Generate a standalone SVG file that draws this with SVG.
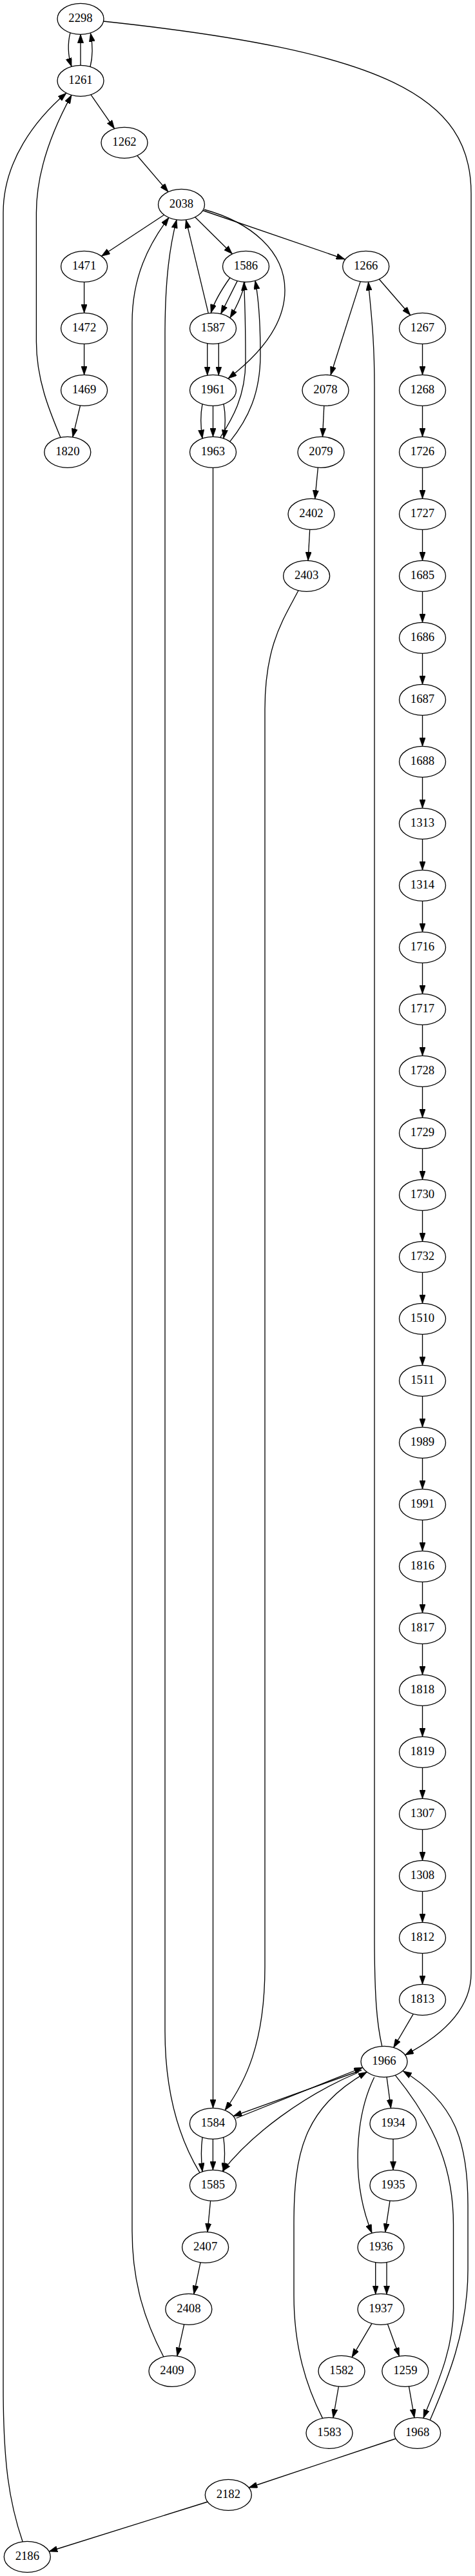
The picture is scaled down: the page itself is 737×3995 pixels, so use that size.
<svg xmlns="http://www.w3.org/2000/svg" width="737" height="3995" viewBox="0 0 737 3995">
<style>
.node ellipse{fill:none;stroke:#000;stroke-width:1.33}
.node text{font-family:"Liberation Serif","Times New Roman",serif;font-size:18.67px;text-anchor:middle;fill:#000}
#edges path{fill:none;stroke:#000;stroke-width:1.33;marker-end:url(#arr)}
</style>
<defs>
<marker id="arr" viewBox="0 0 10 7" refX="10" refY="3.5" markerWidth="13.33" markerHeight="9.33" markerUnits="userSpaceOnUse" orient="auto"><path d="M0,0 L10,3.5 L0,7 z" fill="#000" stroke="#000" stroke-width="0.5"/></marker>
</defs>
<rect x="0" y="0" width="737" height="3995" fill="#fff"/>
<g id="edges">
<path d="M109,50.8 C105,66 105,86 111,103.2"/>
<path d="M125,101.3 L125,53.3"/>
<path d="M140,103.5 C144,88 144,70 140.5,51.5"/>
<path d="M160.5,33 C600,80 731,150 731,300 L731,3060 C731,3120 680,3160 628.5,3187"/>
<path d="M141,146.8 L177.6,199.6"/>
<path d="M213,241.5 L261,297.6"/>
<path d="M255,333 L157.4,397.3"/>
<path d="M302.7,336.7 L360.4,393.8"/>
<path d="M315,326.5 L535,402"/>
<path d="M317,325 C390,345 442,390 442,450 C442,510 392,558 354,587"/>
<path d="M130.6,437.3 L130.6,485.3"/>
<path d="M130.6,533.3 L130.6,581.3"/>
<path d="M124.5,629 L112.8,677.9"/>
<path d="M94,678.5 C78,640 56.4,590 56.4,530 L56.4,330 C56.4,260 85,195 111,147.4"/>
<path d="M35.2,3942 C14,3880 5,3820 5,3700 L5,330 C5,250 55,185 103,144.3"/>
<path d="M357,430.5 C346,446 333,466 327.3,485.3"/>
<path d="M368.3,435.6 L342.7,486.7"/>
<path d="M380,437.3 C377,455 368,474 357,493"/>
<path d="M341.7,678.5 C360,650 381,615 381,560 C381,510 380,470 378.5,437.2"/>
<path d="M356.7,684.8 C385,650 404,610 404,550 C404,500 401,462 396,435.3"/>
<path d="M323.3,485.8 L288.5,340.9"/>
<path d="M321.7,532.6 L321.7,582"/>
<path d="M339.3,532.6 L339.3,582"/>
<path d="M314,626.6 C311,642 311,660 314,680"/>
<path d="M330.5,629.3 L330.5,677.3"/>
<path d="M347,626.6 C350,642 350,660 347,680"/>
<path d="M330.5,725.3 L330.5,3269.3"/>
<path d="M253.8,3655 C225,3600 205,3540 205,3460 L205,500 C205,430 230,380 262,337.4"/>
<path d="M310,3369.6 C280,3320 256,3250 256,3150 L256,520 C256,430 264,380 274,340.8"/>
<path d="M463,915.8 C440,960 411,1000 411,1100 L411,3050 C411,3170 380,3230 349,3272.7"/>
<path d="M592.7,3173.3 C585,3140 581,3100 581,3000 L581,600 C581,520 575,480 571.5,437.2"/>
<path d="M559.2,436.6 L513,581.7"/>
<path d="M588.3,433 L636.7,488.8"/>
<path d="M655.5,533.3 L655.5,581.3"/>
<path d="M655.5,629.3 L655.5,677.3"/>
<path d="M655.5,725.3 L655.5,773.3"/>
<path d="M655.5,821.3 L655.5,869.3"/>
<path d="M655.5,917.3 L655.5,965.3"/>
<path d="M655.5,1013.3 L655.5,1061.3"/>
<path d="M655.5,1109.3 L655.5,1157.3"/>
<path d="M655.5,1205.3 L655.5,1253.3"/>
<path d="M655.5,1301.3 L655.5,1349.3"/>
<path d="M655.5,1397.3 L655.5,1445.3"/>
<path d="M655.5,1493.3 L655.5,1541.3"/>
<path d="M655.5,1589.3 L655.5,1637.3"/>
<path d="M655.5,1685.3 L655.5,1733.3"/>
<path d="M655.5,1781.3 L655.5,1829.3"/>
<path d="M655.5,1877.3 L655.5,1925.3"/>
<path d="M655.5,1973.3 L655.5,2021.3"/>
<path d="M655.5,2069.3 L655.5,2117.3"/>
<path d="M655.5,2165.3 L655.5,2213.3"/>
<path d="M655.5,2261.3 L655.5,2309.3"/>
<path d="M655.5,2357.3 L655.5,2405.3"/>
<path d="M655.5,2453.3 L655.5,2501.3"/>
<path d="M655.5,2549.3 L655.5,2597.3"/>
<path d="M655.5,2645.3 L655.5,2693.3"/>
<path d="M655.5,2741.3 L655.5,2789.3"/>
<path d="M655.5,2837.3 L655.5,2885.3"/>
<path d="M655.5,2933.3 L655.5,2981.3"/>
<path d="M655.5,3029.3 L655.5,3077.3"/>
<path d="M641,3123.8 L610.7,3175.5"/>
<path d="M502.8,629.2 L500.5,677.4"/>
<path d="M493.4,725 L488.7,773.6"/>
<path d="M480.7,821.3 L478,869.4"/>
<path d="M366.5,3285 L562.5,3206.5"/>
<path d="M561,3210.5 L362,3281.8"/>
<path d="M557,3213.5 C470,3250 390,3310 345,3367.4"/>
<path d="M500.5,3750.4 C475,3700 456,3640 456,3560 L456,3450 C456,3340 470,3270 569.3,3213.4"/>
<path d="M580.7,3221.5 C552,3280 543,3380 577,3463.2"/>
<path d="M600,3221 L606.5,3269.4"/>
<path d="M610,3317.3 L610,3365.3"/>
<path d="M605,3413.1 L597.7,3461.7"/>
<path d="M582.7,3508.7 L582.7,3558"/>
<path d="M600,3508.5 L600,3558.1"/>
<path d="M577,3603.4 L546,3655.8"/>
<path d="M601.5,3604.4 L619.4,3654.1"/>
<path d="M525.4,3701 L517,3749.6"/>
<path d="M634.4,3700.7 L642.9,3749.5"/>
<path d="M613.3,3218.3 C680,3300 703.5,3370 703.5,3450 L703.5,3580 C703.5,3650 672,3710 657,3750.1"/>
<path d="M667.3,3753 C690,3700 726,3620 726,3520 L726,3420 C726,3320 705,3260 625.5,3212"/>
<path d="M614,3782 L386,3858"/>
<path d="M322,3880 L76,3957"/>
<path d="M314,3314.7 C312,3330 312,3350 314,3367.9"/>
<path d="M330.4,3317.3 L330.4,3365.3"/>
<path d="M346.7,3314.7 C349,3330 349,3350 346.7,3367.9"/>
<path d="M326.6,3413.3 L321.9,3461.5"/>
<path d="M311,3508.8 L300.8,3557.9"/>
<path d="M285.7,3604.8 L274.9,3653.9"/>
</g>
<g id="n2298" class="node"><ellipse cx="125" cy="29.33" rx="36" ry="24"/><text x="125" y="34.33">2298</text></g>
<g id="n1261" class="node"><ellipse cx="125" cy="125.33" rx="36" ry="24"/><text x="125" y="130.33">1261</text></g>
<g id="n1262" class="node"><ellipse cx="193" cy="221.33" rx="36" ry="24"/><text x="193" y="226.33">1262</text></g>
<g id="n2038" class="node"><ellipse cx="281.5" cy="317.33" rx="36" ry="24"/><text x="281.5" y="322.33">2038</text></g>
<g id="n1471" class="node"><ellipse cx="130.6" cy="413.33" rx="36" ry="24"/><text x="130.6" y="418.33">1471</text></g>
<g id="n1586" class="node"><ellipse cx="381.5" cy="413.33" rx="36" ry="24"/><text x="381.5" y="418.33">1586</text></g>
<g id="n1266" class="node"><ellipse cx="567.7" cy="413.33" rx="36" ry="24"/><text x="567.7" y="418.33">1266</text></g>
<g id="n1472" class="node"><ellipse cx="130.6" cy="509.33" rx="36" ry="24"/><text x="130.6" y="514.33">1472</text></g>
<g id="n1587" class="node"><ellipse cx="330.5" cy="509.33" rx="36" ry="24"/><text x="330.5" y="514.33">1587</text></g>
<g id="n1267" class="node"><ellipse cx="655.5" cy="509.33" rx="36" ry="24"/><text x="655.5" y="514.33">1267</text></g>
<g id="n1469" class="node"><ellipse cx="130.6" cy="605.33" rx="36" ry="24"/><text x="130.6" y="610.33">1469</text></g>
<g id="n1961" class="node"><ellipse cx="330.5" cy="605.33" rx="36" ry="24"/><text x="330.5" y="610.33">1961</text></g>
<g id="n2078" class="node"><ellipse cx="505" cy="605.33" rx="36" ry="24"/><text x="505" y="610.33">2078</text></g>
<g id="n1268" class="node"><ellipse cx="655.5" cy="605.33" rx="36" ry="24"/><text x="655.5" y="610.33">1268</text></g>
<g id="n1820" class="node"><ellipse cx="104.8" cy="701.33" rx="36" ry="24"/><text x="104.8" y="706.33">1820</text></g>
<g id="n1963" class="node"><ellipse cx="330.5" cy="701.33" rx="36" ry="24"/><text x="330.5" y="706.33">1963</text></g>
<g id="n2079" class="node"><ellipse cx="498" cy="701.33" rx="36" ry="24"/><text x="498" y="706.33">2079</text></g>
<g id="n1726" class="node"><ellipse cx="655.5" cy="701.33" rx="36" ry="24"/><text x="655.5" y="706.33">1726</text></g>
<g id="n2402" class="node"><ellipse cx="483" cy="797.33" rx="36" ry="24"/><text x="483" y="802.33">2402</text></g>
<g id="n1727" class="node"><ellipse cx="655.5" cy="797.33" rx="36" ry="24"/><text x="655.5" y="802.33">1727</text></g>
<g id="n2403" class="node"><ellipse cx="475.6" cy="893.33" rx="36" ry="24"/><text x="475.6" y="898.33">2403</text></g>
<g id="n1685" class="node"><ellipse cx="655.5" cy="893.33" rx="36" ry="24"/><text x="655.5" y="898.33">1685</text></g>
<g id="n1686" class="node"><ellipse cx="655.5" cy="989.33" rx="36" ry="24"/><text x="655.5" y="994.33">1686</text></g>
<g id="n1687" class="node"><ellipse cx="655.5" cy="1085.33" rx="36" ry="24"/><text x="655.5" y="1090.33">1687</text></g>
<g id="n1688" class="node"><ellipse cx="655.5" cy="1181.33" rx="36" ry="24"/><text x="655.5" y="1186.33">1688</text></g>
<g id="n1313" class="node"><ellipse cx="655.5" cy="1277.33" rx="36" ry="24"/><text x="655.5" y="1282.33">1313</text></g>
<g id="n1314" class="node"><ellipse cx="655.5" cy="1373.33" rx="36" ry="24"/><text x="655.5" y="1378.33">1314</text></g>
<g id="n1716" class="node"><ellipse cx="655.5" cy="1469.33" rx="36" ry="24"/><text x="655.5" y="1474.33">1716</text></g>
<g id="n1717" class="node"><ellipse cx="655.5" cy="1565.33" rx="36" ry="24"/><text x="655.5" y="1570.33">1717</text></g>
<g id="n1728" class="node"><ellipse cx="655.5" cy="1661.33" rx="36" ry="24"/><text x="655.5" y="1666.33">1728</text></g>
<g id="n1729" class="node"><ellipse cx="655.5" cy="1757.33" rx="36" ry="24"/><text x="655.5" y="1762.33">1729</text></g>
<g id="n1730" class="node"><ellipse cx="655.5" cy="1853.33" rx="36" ry="24"/><text x="655.5" y="1858.33">1730</text></g>
<g id="n1732" class="node"><ellipse cx="655.5" cy="1949.33" rx="36" ry="24"/><text x="655.5" y="1954.33">1732</text></g>
<g id="n1510" class="node"><ellipse cx="655.5" cy="2045.33" rx="36" ry="24"/><text x="655.5" y="2050.33">1510</text></g>
<g id="n1511" class="node"><ellipse cx="655.5" cy="2141.33" rx="36" ry="24"/><text x="655.5" y="2146.33">1511</text></g>
<g id="n1989" class="node"><ellipse cx="655.5" cy="2237.33" rx="36" ry="24"/><text x="655.5" y="2242.33">1989</text></g>
<g id="n1991" class="node"><ellipse cx="655.5" cy="2333.33" rx="36" ry="24"/><text x="655.5" y="2338.33">1991</text></g>
<g id="n1816" class="node"><ellipse cx="655.5" cy="2429.33" rx="36" ry="24"/><text x="655.5" y="2434.33">1816</text></g>
<g id="n1817" class="node"><ellipse cx="655.5" cy="2525.33" rx="36" ry="24"/><text x="655.5" y="2530.33">1817</text></g>
<g id="n1818" class="node"><ellipse cx="655.5" cy="2621.33" rx="36" ry="24"/><text x="655.5" y="2626.33">1818</text></g>
<g id="n1819" class="node"><ellipse cx="655.5" cy="2717.33" rx="36" ry="24"/><text x="655.5" y="2722.33">1819</text></g>
<g id="n1307" class="node"><ellipse cx="655.5" cy="2813.33" rx="36" ry="24"/><text x="655.5" y="2818.33">1307</text></g>
<g id="n1308" class="node"><ellipse cx="655.5" cy="2909.33" rx="36" ry="24"/><text x="655.5" y="2914.33">1308</text></g>
<g id="n1812" class="node"><ellipse cx="655.5" cy="3005.33" rx="36" ry="24"/><text x="655.5" y="3010.33">1812</text></g>
<g id="n1813" class="node"><ellipse cx="655.5" cy="3101.33" rx="36" ry="24"/><text x="655.5" y="3106.33">1813</text></g>
<g id="n1966" class="node"><ellipse cx="596" cy="3197.33" rx="36" ry="24"/><text x="596" y="3202.33">1966</text></g>
<g id="n1584" class="node"><ellipse cx="330.4" cy="3293.33" rx="36" ry="24"/><text x="330.4" y="3298.33">1584</text></g>
<g id="n1934" class="node"><ellipse cx="610" cy="3293.33" rx="36" ry="24"/><text x="610" y="3298.33">1934</text></g>
<g id="n1585" class="node"><ellipse cx="330.4" cy="3389.33" rx="36" ry="24"/><text x="330.4" y="3394.33">1585</text></g>
<g id="n1935" class="node"><ellipse cx="610" cy="3389.33" rx="36" ry="24"/><text x="610" y="3394.33">1935</text></g>
<g id="n2407" class="node"><ellipse cx="318.6" cy="3485.33" rx="36" ry="24"/><text x="318.6" y="3490.33">2407</text></g>
<g id="n1936" class="node"><ellipse cx="591" cy="3485.33" rx="36" ry="24"/><text x="591" y="3490.33">1936</text></g>
<g id="n2408" class="node"><ellipse cx="292.8" cy="3581.33" rx="36" ry="24"/><text x="292.8" y="3586.33">2408</text></g>
<g id="n1937" class="node"><ellipse cx="591" cy="3581.33" rx="36" ry="24"/><text x="591" y="3586.33">1937</text></g>
<g id="n2409" class="node"><ellipse cx="267" cy="3677.33" rx="36" ry="24"/><text x="267" y="3682.33">2409</text></g>
<g id="n1582" class="node"><ellipse cx="530" cy="3677.33" rx="36" ry="24"/><text x="530" y="3682.33">1582</text></g>
<g id="n1259" class="node"><ellipse cx="628.8" cy="3677.33" rx="36" ry="24"/><text x="628.8" y="3682.33">1259</text></g>
<g id="n1583" class="node"><ellipse cx="511" cy="3773.33" rx="36" ry="24"/><text x="511" y="3778.33">1583</text></g>
<g id="n1968" class="node"><ellipse cx="647.6" cy="3773.33" rx="36" ry="24"/><text x="647.6" y="3778.33">1968</text></g>
<g id="n2182" class="node"><ellipse cx="354.3" cy="3869.33" rx="36" ry="24"/><text x="354.3" y="3874.33">2182</text></g>
<g id="n2186" class="node"><ellipse cx="42.3" cy="3965.33" rx="36" ry="24"/><text x="42.3" y="3970.33">2186</text></g>
</svg>
